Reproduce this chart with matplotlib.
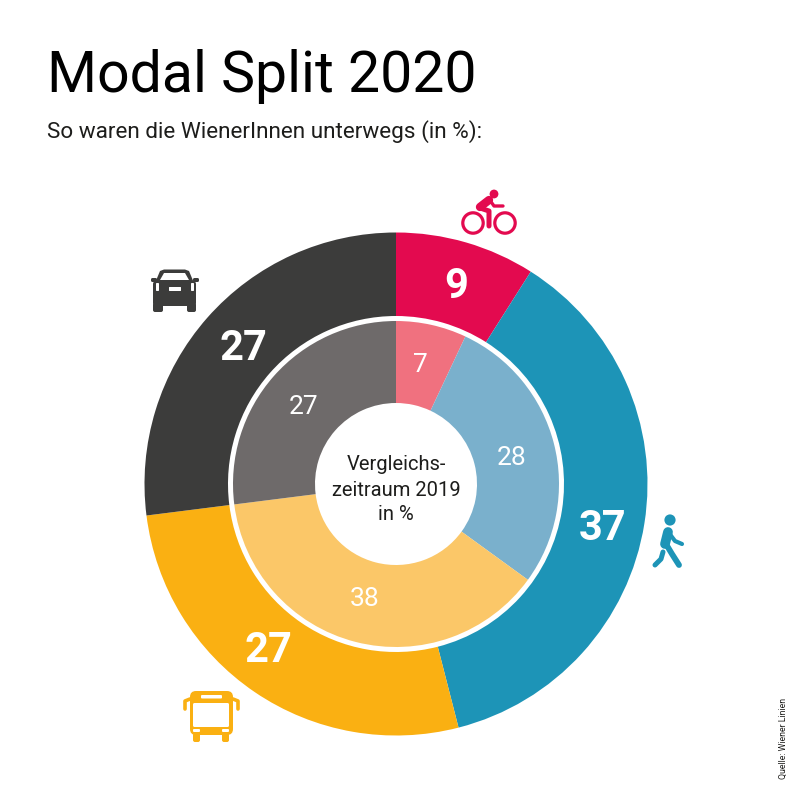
"""Modal Split 2020 - Wiener Linien, two nested donuts."""
import matplotlib
matplotlib.use("Agg")
import matplotlib.pyplot as plt
from matplotlib.patches import Circle, FancyBboxPatch, Polygon

FONT = "Roboto"

modes = ["Rad", "Zu Fuss", "Oeffis", "Auto"]
values_2020 = [9, 37, 27, 27]
values_2019 = [7, 28, 38, 27]
colors_2020 = ["#E30A4F", "#1D94B7", "#FAB012", "#3C3C3B"]
colors_2019 = ["#F0717F", "#7AB0CC", "#FBC768", "#6E6A6A"]

title = "Modal Split 2020"
subtitle = "So waren die WienerInnen unterwegs (in %):"
centre_label = "Vergleichs-\nzeitraum 2019\nin %"
source = "Quelle: Wiener Linien"


def Y(y):
    # picture pixels run downwards, the axes upwards
    return 800 - y


def rrect(ax, x0, y0, x1, y1, color, rad=2.0, z=5):
    ax.add_patch(FancyBboxPatch((x0 + rad, Y(y1) + rad), x1 - x0 - 2 * rad, y1 - y0 - 2 * rad,
                                boxstyle=f"round,pad={rad},rounding_size={rad}",
                                fc=color, ec="none", zorder=z))


def stroke(ax, xs, ys, color, lw):
    ax.plot(xs, [Y(v) for v in ys], color=color, lw=lw, solid_capstyle="round",
            solid_joinstyle="round", zorder=5)


def poly(ax, pts, color, z=5):
    ax.add_patch(Polygon([(x, Y(y)) for x, y in pts], closed=True, fc=color, ec="none", zorder=z))


def bike_icon(ax, c):
    for cx in (473, 505):
        ax.add_patch(Circle((cx, Y(223)), 10.2, fc="none", ec=c, lw=2.3, zorder=5))
    ax.add_patch(Circle((494, Y(194)), 4.4, fc=c, ec="none", zorder=5))
    stroke(ax, [480, 489], [207, 200], c, 6.0)
    stroke(ax, [489, 494, 503], [199, 206, 206], c, 2.4)
    stroke(ax, [480, 489, 489], [208, 211, 226], c, 3.6)


def car_icon(ax, c):
    rrect(ax, 153, 281, 196, 306, c, rad=3)
    poly(ax, [(155, 283), (160, 271), (164, 269.5), (185, 269.5), (189, 271), (194, 283)], c)
    poly(ax, [(160, 280), (164, 273), (185, 273), (189, 280)], "white", z=6)
    rrect(ax, 153, 303, 163, 312, c, rad=2)
    rrect(ax, 187, 303, 196, 312, c, rad=2)
    rrect(ax, 151, 278, 157, 282, c, rad=1.5)
    rrect(ax, 193, 278, 199, 282, c, rad=1.5)
    rrect(ax, 169, 287, 181, 291, "white", rad=0.5, z=6)
    rrect(ax, 156, 283, 159, 291, "white", rad=0.8, z=6)
    rrect(ax, 191, 283, 194, 291, "white", rad=0.8, z=6)


def walker_icon(ax, c):
    ax.add_patch(Circle((670, Y(520)), 5.6, fc=c, ec="none", zorder=5))
    stroke(ax, [668, 665], [532, 544], c, 7.0)
    stroke(ax, [669, 675, 682], [533, 541, 544], c, 3.0)
    stroke(ax, [666, 672, 679], [544, 554, 565], c, 4.2)
    stroke(ax, [663, 661, 655], [552, 559, 565], c, 3.6)


def bus_icon(ax, c):
    rrect(ax, 190, 691, 233, 735, c, rad=6)
    rrect(ax, 193, 703, 229, 727, "white", rad=1.5, z=6)
    rrect(ax, 201, 695, 222, 698.5, "white", rad=1, z=6)
    rrect(ax, 193, 729, 200, 732, "white", rad=1, z=6)
    rrect(ax, 222, 729, 229, 732, "white", rad=1, z=6)
    rrect(ax, 193, 733, 200, 742, c, rad=2)
    rrect(ax, 222, 733, 229, 742, c, rad=2)
    stroke(ax, [190, 185, 185], [699, 701, 709], c, 2.6)
    stroke(ax, [233, 238, 238], [699, 701, 709], c, 2.6)


def main():
    fig = plt.figure(figsize=(8, 8), dpi=100)
    ax = fig.add_axes([0, 0, 1, 1])

    centre = (396, Y(484))
    ax.pie(values_2020, colors=colors_2020, startangle=90, counterclock=False,
           center=centre, radius=251.5, frame=True,
           wedgeprops=dict(width=83.5, linewidth=0))
    ax.pie(values_2019, colors=colors_2019, startangle=90, counterclock=False,
           center=centre, radius=163, frame=True,
           wedgeprops=dict(width=82, linewidth=0))

    ax.set_xlim(0, 800)
    ax.set_ylim(0, 800)
    ax.axis("off")

    ax.text(47, Y(92), title, fontsize=41.2, family=FONT, color="black", va="baseline")
    ax.text(47, Y(138), subtitle, fontsize=16.2, family=FONT, color="#1d1d1b", va="baseline")

    for x, y, v in zip([456, 603, 268, 243], [286, 528, 651, 349], values_2020):
        ax.text(x, Y(y), str(v), fontsize=30, family=FONT, fontweight="bold", color="white",
                ha="center", va="center", zorder=4)
    for x, y, v in zip([420, 512, 365, 304], [365, 458, 599, 407], values_2019):
        ax.text(x, Y(y), str(v), fontsize=19, family=FONT, color="white",
                ha="center", va="center", zorder=4)

    ax.text(396, Y(490), centre_label, fontsize=14.5, family=FONT, color="#1d1d1b",
            ha="center", va="center", linespacing=1.4, zorder=4)
    ax.text(783, Y(738), source, fontsize=6.3, family=FONT, color="#1d1d1b",
            rotation=90, ha="center", va="center")

    bike_icon(ax, colors_2020[0])
    car_icon(ax, colors_2020[3])
    walker_icon(ax, colors_2020[1])
    bus_icon(ax, colors_2020[2])

    fig.savefig("out.png", dpi=100, facecolor="white")
    plt.close(fig)


if __name__ == "__main__":
    main()
